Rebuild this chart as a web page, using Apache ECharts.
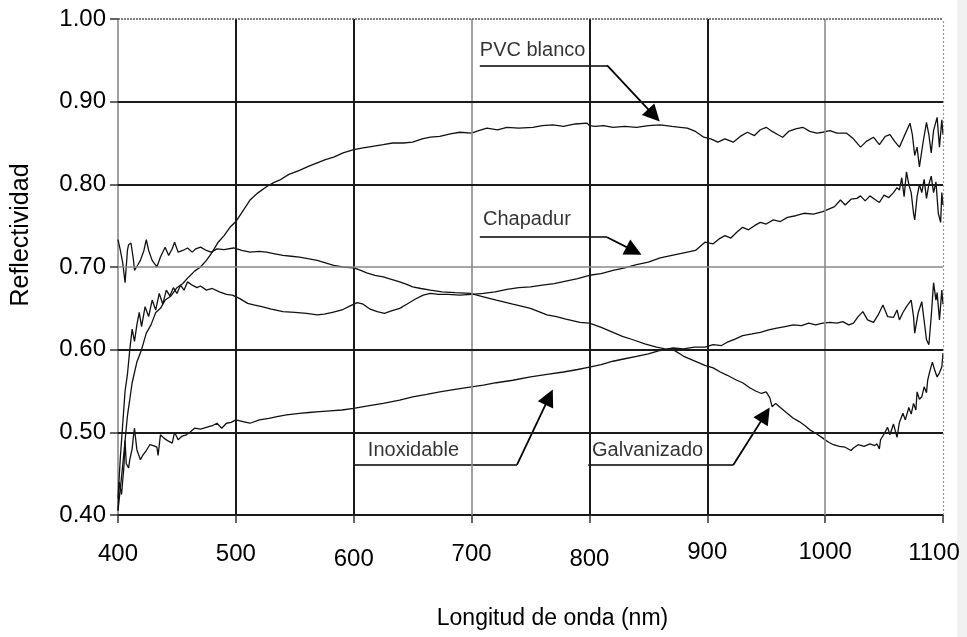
<!DOCTYPE html>
<html><head><meta charset="utf-8">
<script src="https://cdn.jsdelivr.net/npm/echarts@6/dist/echarts.min.js"></script>
<style>html,body{margin:0;padding:0;background:#fff}#c{width:967px;height:637px}</style>
</head><body><div id="c"></div>
<script>
// ---- data ----
const pvcX = [400,404,408,412,416,420,424,428,432,436,440,445,450,455,460,465,470,475,480,485,490,495,500,506,512,519,526,532,537,545,554,562,569,576,583,591,600,608,616,625,633,642,650,658,665,673,682,690,700,706,713,722,730,740,752,760,769,778,788,798,800,805,812,820,830,840,850,860,870,877,883,890,897,903,909,915,922,928,934,940,945,950,955,960,964,969,975,981,987,993,998,1004,1010,1018,1024,1030,1035,1041,1046,1051,1055,1059,1063,1067,1072,1074,1076,1078,1080,1083,1086,1088,1090,1092,1095,1097,1099,1100];
const pvcY = [0.405,0.46,0.52,0.56,0.585,0.60,0.62,0.63,0.645,0.65,0.66,0.665,0.675,0.68,0.688,0.695,0.70,0.708,0.718,0.73,0.738,0.748,0.755,0.768,0.781,0.79,0.797,0.802,0.805,0.812,0.817,0.822,0.826,0.83,0.833,0.838,0.842,0.844,0.846,0.848,0.85,0.85,0.851,0.855,0.857,0.858,0.861,0.863,0.862,0.865,0.868,0.866,0.869,0.868,0.869,0.871,0.872,0.87,0.873,0.874,0.871,0.870,0.871,0.869,0.870,0.869,0.871,0.872,0.87,0.869,0.868,0.864,0.857,0.855,0.851,0.855,0.851,0.858,0.863,0.859,0.866,0.869,0.864,0.86,0.857,0.864,0.867,0.869,0.864,0.862,0.863,0.865,0.862,0.862,0.855,0.845,0.852,0.857,0.848,0.858,0.86,0.852,0.845,0.858,0.874,0.86,0.835,0.845,0.821,0.85,0.875,0.86,0.838,0.865,0.881,0.845,0.878,0.86];

const chapX = [400,402,404,406,408,410,412,414,416,418,420,423,426,429,432,435,438,441,444,447,450,453,456,459,463,467,470,475,480,486,492,497,503,510,516,522,530,540,550,560,569,575,582,590,597,603,608,614,620,626,632,639,645,652,659,665,672,680,690,700,710,720,730,740,750,760,770,780,790,800,810,820,830,840,850,860,870,880,890,898,905,910,915,920,925,930,935,940,945,950,956,962,968,975,982,990,998,1003,1008,1013,1017,1022,1027,1030,1034,1038,1042,1046,1050,1054,1058,1061,1063,1065,1067,1069,1071,1073,1075,1076,1078,1080,1082,1084,1086,1088,1090,1092,1094,1096,1098,1099,1100];
const chapY = [0.42,0.47,0.51,0.55,0.57,0.60,0.625,0.61,0.63,0.645,0.628,0.652,0.64,0.66,0.648,0.668,0.655,0.672,0.665,0.675,0.668,0.678,0.672,0.682,0.678,0.675,0.677,0.672,0.674,0.67,0.667,0.666,0.662,0.656,0.654,0.652,0.649,0.646,0.645,0.644,0.642,0.643,0.645,0.648,0.653,0.657,0.655,0.649,0.646,0.644,0.647,0.650,0.655,0.661,0.666,0.668,0.667,0.667,0.666,0.667,0.668,0.670,0.673,0.675,0.676,0.678,0.680,0.683,0.686,0.690,0.692,0.696,0.699,0.703,0.706,0.711,0.714,0.717,0.72,0.73,0.728,0.734,0.738,0.735,0.742,0.748,0.745,0.750,0.754,0.752,0.757,0.755,0.760,0.762,0.765,0.764,0.767,0.770,0.773,0.781,0.775,0.782,0.783,0.786,0.780,0.786,0.782,0.778,0.787,0.784,0.790,0.796,0.793,0.808,0.785,0.815,0.80,0.79,0.765,0.757,0.785,0.80,0.79,0.806,0.783,0.80,0.81,0.79,0.803,0.765,0.754,0.79,0.775];

const inoxX = [400,401,403,405,406,407,409,410,412,413,414,416,419,421,424,427,430,433,434,436,439,442,446,448,451,454,458,461,465,470,475,480,484,488,492,496,500,506,512,520,528,535,543,554,562,571,580,590,600,612,625,639,650,662,673,686,700,710,721,735,750,764,778,790,800,810,820,830,840,850,860,871,880,889,898,905,912,917,924,930,938,945,952,959,966,973,980,986,992,998,1004,1010,1015,1020,1024,1028,1032,1036,1041,1045,1049,1053,1058,1061,1063,1066,1069,1073,1075,1076,1079,1082,1084,1086,1088,1090,1092,1094,1095,1097,1099,1100];
const inoxY = [0.406,0.44,0.425,0.458,0.49,0.462,0.457,0.467,0.48,0.494,0.505,0.479,0.467,0.472,0.478,0.485,0.484,0.482,0.472,0.497,0.493,0.49,0.487,0.50,0.491,0.495,0.497,0.50,0.505,0.504,0.506,0.508,0.511,0.505,0.511,0.512,0.515,0.513,0.511,0.515,0.517,0.519,0.521,0.523,0.524,0.525,0.526,0.527,0.529,0.532,0.535,0.539,0.543,0.546,0.549,0.552,0.555,0.557,0.56,0.563,0.567,0.57,0.573,0.576,0.579,0.582,0.586,0.589,0.592,0.595,0.599,0.602,0.601,0.603,0.603,0.606,0.605,0.609,0.613,0.617,0.619,0.621,0.624,0.626,0.628,0.63,0.629,0.632,0.63,0.632,0.633,0.632,0.634,0.630,0.632,0.64,0.646,0.636,0.633,0.642,0.654,0.64,0.639,0.648,0.636,0.645,0.652,0.66,0.64,0.62,0.645,0.658,0.635,0.612,0.606,0.64,0.681,0.66,0.669,0.636,0.672,0.655];

const galvX = [400,402,404,406,408,409,411,413,414,417,419,422,424,426,429,431,433,436,440,443,446,448,451,455,459,463,466,470,475,479,484,490,498,505,512,520,526,533,540,547,554,561,569,576,583,591,600,606,611,618,625,632,639,645,650,657,665,675,686,699,710,721,735,750,757,764,772,780,792,800,810,820,828,837,847,857,864,871,880,888,898,905,911,917,925,930,936,941,946,950,953,955,958,962,967,973,978,983,987,993,998,1003,1007,1012,1017,1022,1024,1028,1033,1038,1042,1044,1046,1047,1050,1053,1055,1058,1061,1063,1066,1068,1071,1073,1075,1077,1078,1080,1082,1084,1086,1087,1089,1091,1093,1095,1097,1099,1100];
const galvY = [0.733,0.72,0.705,0.681,0.72,0.727,0.729,0.71,0.696,0.703,0.708,0.72,0.733,0.72,0.708,0.704,0.70,0.712,0.724,0.714,0.722,0.73,0.718,0.72,0.723,0.718,0.722,0.724,0.72,0.718,0.722,0.721,0.723,0.72,0.718,0.719,0.718,0.716,0.714,0.713,0.712,0.71,0.708,0.705,0.702,0.700,0.699,0.696,0.693,0.69,0.688,0.685,0.682,0.679,0.676,0.674,0.672,0.670,0.669,0.668,0.664,0.66,0.655,0.65,0.646,0.642,0.64,0.637,0.633,0.632,0.627,0.621,0.616,0.612,0.607,0.603,0.601,0.600,0.592,0.587,0.581,0.578,0.573,0.569,0.563,0.56,0.554,0.55,0.547,0.549,0.542,0.531,0.535,0.53,0.524,0.517,0.513,0.508,0.503,0.498,0.493,0.488,0.485,0.483,0.482,0.478,0.481,0.485,0.483,0.486,0.484,0.486,0.48,0.491,0.498,0.506,0.497,0.51,0.494,0.512,0.523,0.515,0.53,0.522,0.535,0.527,0.549,0.54,0.543,0.555,0.548,0.563,0.575,0.585,0.575,0.567,0.572,0.579,0.596];

const xTicks = [400,500,600,700,800,900,1000,1100];
const yTicks = [0.40,0.50,0.60,0.70,0.80,0.90,1.00];
const darkGridX = [500,600,800,900];
const lightGridX = [700,1000];
const darkGridY = [0.50,0.60,0.80,0.90];
const lightGridY = [0.70];

// annotations (data space): text anchor, underline, arrow (ends at the arrow-head centre)
const annoNames = ['PVC blanco','Chapadur','Inoxidable','Galvanizado'];
const annoText = [[707,0.9625],[709.7,0.757],[612,0.4786],[802.2,0.4786]];
const annoUnder = [[[707,0.944],[815,0.944]],[[707,0.736],[815,0.736]],[[600,0.4605],[738.5,0.4605]],[[799,0.4605],[922,0.4605]]];
const annoArrow = [[[815,0.944],[854.7,0.8834]],[[815,0.736],[837.8,0.7195]],[[738.5,0.4605],[765.8,0.5426]],[[922,0.4605],[949.1,0.5214]]];

// ---- chart ----
const FONT = 'Liberation Sans, Arial, sans-serif';
const zip = (xs, ys) => xs.map((x, i) => [x, ys[i]]);
const curve = (name, xs, ys) => ({
  type: 'line', name, data: zip(xs, ys), symbol: 'none', silent: true,
  lineStyle: { color: '#111', width: 1.3 }, z: 3, animation: false
});
const dark = { color: '#1a1a1a', width: 2, type: 'solid' };
const light = { color: '#8a8a8a', width: 1.6, type: 'solid' };
const gridLines = [
  ...darkGridX.map(v => ({ xAxis: v, lineStyle: dark })),
  ...lightGridX.map(v => ({ xAxis: v, lineStyle: light })),
  ...darkGridY.map(v => ({ yAxis: v, lineStyle: dark })),
  ...lightGridY.map(v => ({ yAxis: v, lineStyle: light })),
  { yAxis: yTicks[yTicks.length - 1], lineStyle: { color: '#555', width: 1.5, type: [2, 1] } },
  { xAxis: xTicks[xTicks.length - 1], lineStyle: { color: '#999', width: 1.2, type: [2, 2] } }
];
// slight vertical stagger of the x tick labels, as in the reference
const xLabelStyle = v => (v === 600 || v === 800) ? 'lo' : (v === 900 || v === 1000) ? 'hi' : (v === 1100 ? 'end' : 'mid');

const chart = echarts.init(document.getElementById('c'), null, { renderer: 'canvas' });
chart.setOption({
  animation: false,
  backgroundColor: '#fff',
  textStyle: { fontFamily: FONT },
  graphic: [{ type: 'rect', right: 0, top: 0, shape: { width: 10, height: 637 }, style: { fill: '#f1f1f1' }, z: -1 }],
  grid: { left: 118, right: 24, top: 19, bottom: 122, outerBoundsMode: 'none', containLabel: false },
  xAxis: {
    type: 'value', min: xTicks[0], max: xTicks[xTicks.length - 1], interval: 100,
    name: 'Longitud de onda (nm)', nameLocation: 'middle', nameGap: 92,
    nameTextStyle: { fontSize: 23, color: '#000', fontFamily: FONT, padding: [0, 0, 0, 44] },
    axisLine: { show: true, lineStyle: { color: '#1a1a1a', width: 2 } },
    axisTick: { show: true, length: 8, lineStyle: { color: '#333', width: 1.5 } },
    axisLabel: {
      fontSize: 24, color: '#000', margin: 25, fontFamily: FONT,
      formatter: v => '{' + xLabelStyle(v) + '|' + String(v) + '}',
      rich: {
        hi: { fontSize: 24, fontFamily: FONT, color: '#000', padding: [0, 0, 0, 0] },
        mid: { fontSize: 24, fontFamily: FONT, color: '#000', padding: [2, 0, 0, 0] },
        lo: { fontSize: 24, fontFamily: FONT, color: '#000', padding: [7, 0, 0, 0] },
        end: { fontSize: 24, fontFamily: FONT, color: '#000', padding: [1, 18, 0, 0] }
      }
    },
    splitLine: { show: false }
  },
  yAxis: {
    type: 'value', min: yTicks[0], max: yTicks[yTicks.length - 1], interval: 0.1,
    name: 'Reflectividad', nameLocation: 'middle', nameGap: 84, nameRotate: 90,
    nameTextStyle: { fontSize: 25, color: '#000', fontFamily: FONT, padding: [0, 0, 0, 64] },
    axisLine: { show: true, lineStyle: { color: '#8a8a8a', width: 1.6 } },
    axisTick: { show: true, length: 8, lineStyle: { color: '#333', width: 1.5 } },
    axisLabel: { fontSize: 24, color: '#000', margin: 12, fontFamily: FONT, formatter: v => v.toFixed(2) },
    splitLine: { show: false }
  },
  series: [
    { type: 'line', data: [], silent: true, z: 1,
      markLine: { silent: true, symbol: 'none', label: { show: false }, animation: false, data: gridLines } },
    curve('PVC blanco', pvcX, pvcY),
    curve('Chapadur', chapX, chapY),
    curve('Inoxidable', inoxX, inoxY),
    curve('Galvanizado', galvX, galvY),
    { type: 'lines', coordinateSystem: 'cartesian2d', silent: true, z: 4,
      data: annoUnder.map(c => ({ coords: c })), symbol: 'none',
      lineStyle: { color: '#000', width: 1.5, opacity: 1 } },
    { type: 'lines', coordinateSystem: 'cartesian2d', silent: true, z: 4,
      data: annoArrow.map(c => ({ coords: c })), symbol: ['none', 'triangle'], symbolSize: [0, 17],
      lineStyle: { color: '#000', width: 1.8, opacity: 1 } },
    { type: 'scatter', silent: true, z: 5, symbolSize: 0,
      data: annoNames.map((n, i) => ({ name: n, value: annoText[i] })),
      label: { show: true, position: 'right', distance: 0, formatter: '{b}', color: '#000', fontSize: 20, fontFamily: FONT } }
  ]
});
</script>
</body></html>
